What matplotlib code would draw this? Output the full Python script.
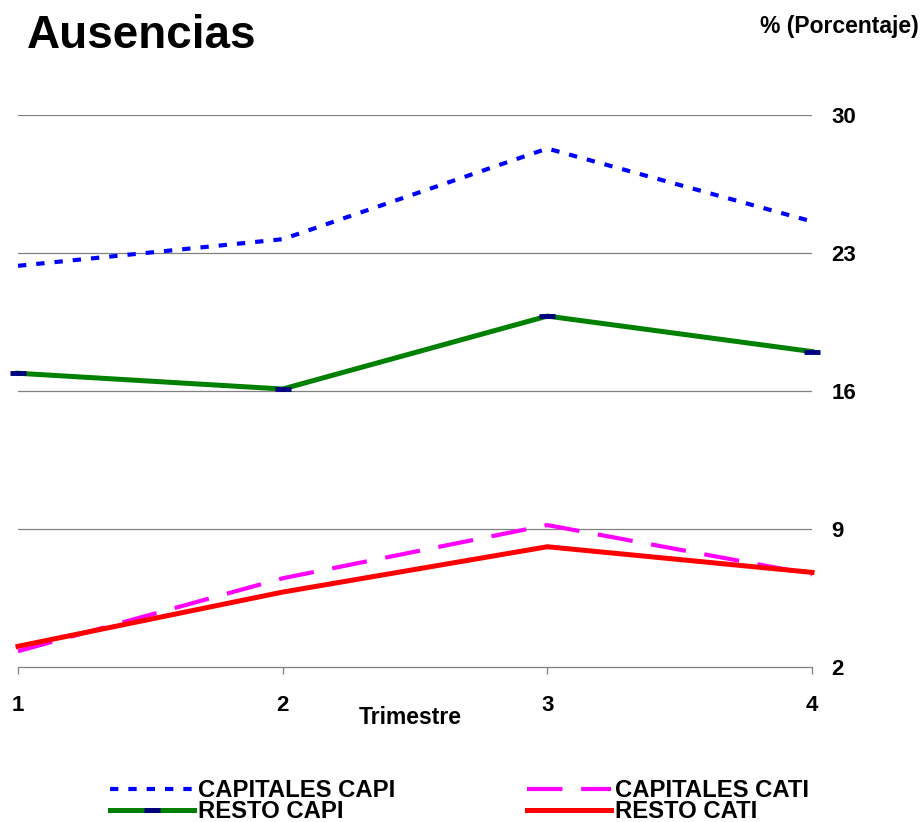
import matplotlib.pyplot as plt

plt.rcParams['font.family'] = ['Liberation Sans', 'DejaVu Sans']
plt.rcParams['font.weight'] = 'bold'

# --- Datos ---
trimestres = [1, 2, 3, 4]
capitales_capi = [22.35, 23.7, 28.3, 24.6]
resto_capi = [16.9, 16.1, 19.8, 18.0]
capitales_cati = [2.8, 6.5, 9.2, 6.7]
resto_cati = [3.05, 5.8, 8.1, 6.8]
yticks = [2, 9, 16, 23, 30]

fig = plt.figure(figsize=(9.22, 8.22), dpi=100)
ax = fig.add_axes([18 / 922, 1 - 667 / 822, 794 / 922, 552 / 822])

# rejilla
for v in yticks[1:]:
    ax.axhline(v, color='#808080', linewidth=0.9, zorder=1)

ax.plot(trimestres, capitales_capi, color='#0000FF', linewidth=3,
        dashes=(2.0, 2.4), label='CAPITALES CAPI', zorder=3, clip_on=False)
ax.plot(trimestres, capitales_cati, color='#FF00FF', linewidth=3,
        dashes=(8.5, 4.5), label='CAPITALES CATI', zorder=3, clip_on=False)
ax.plot(trimestres, resto_capi, color='#008000', linewidth=3.6,
        marker='_', markersize=11, markeredgewidth=3.5, markeredgecolor='#000080',
        label='RESTO CAPI', zorder=4, clip_on=False)
ax.plot(trimestres, resto_cati, color='#FF0000', linewidth=3.6,
        label='RESTO CATI', zorder=3, clip_on=False)

ax.set_xlim(1, 4)
ax.set_ylim(2, 30)
ax.set_xticks(trimestres)
ax.set_yticks(yticks)

for s in ['top', 'left', 'right']:
    ax.spines[s].set_visible(False)
ax.spines['bottom'].set_color('#808080')
ax.spines['bottom'].set_linewidth(0.9)

ax.yaxis.tick_right()
ax.tick_params(axis='y', length=0, pad=14, labelsize=16)
ax.tick_params(axis='x', length=5, width=0.9, color='#808080', direction='out',
               pad=15, labelsize=16)
for t in ax.get_xticklabels() + ax.get_yticklabels():
    t.set_fontweight('bold')

ax.set_xlabel('Trimestre', fontsize=16.5, fontweight='bold')
ax.xaxis.set_label_coords((410 - 18) / 794, -(706 - 667) / 552)

fig.text(27 / 922, 1 - 48 / 822, 'Ausencias', fontsize=33, fontweight='bold',
         ha='left', va='baseline')
fig.text(919 / 922, 1 - 33 / 822, '% (Porcentaje)', fontsize=16.5,
         fontweight='bold', ha='right', va='baseline')

handles, labels = ax.get_legend_handles_labels()
order = [0, 2, 1, 3]
leg = fig.legend([handles[i] for i in order], [labels[i] for i in order],
                 ncol=2, loc='upper left', bbox_to_anchor=(110 / 922, 1 - 779 / 822),
                 frameon=False, fontsize=17.2, handlelength=3.5, handletextpad=0.2,
                 columnspacing=5.5, labelspacing=-0.08, borderpad=0,
                 borderaxespad=0, numpoints=1)
for t in leg.get_texts():
    t.set_fontweight('bold')

fig.savefig('out.png', dpi=100)
